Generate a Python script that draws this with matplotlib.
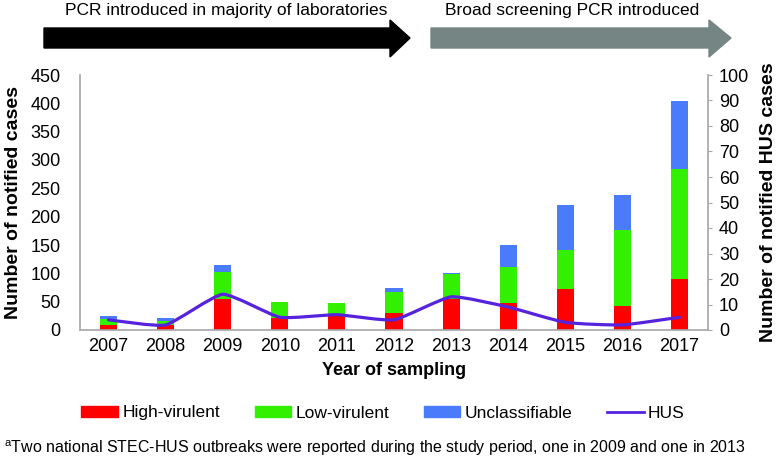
import matplotlib
matplotlib.use("Agg")
import matplotlib.pyplot as plt
import numpy as np
from matplotlib.patches import Polygon, Patch, PathPatch
from matplotlib.lines import Line2D
from matplotlib.path import Path

plt.rcParams['font.family'] = ['Liberation Sans', 'DejaVu Sans']

# Data
years = ['2007', '2008', '2009', '2010', '2011', '2012', '2013', '2014', '2015', '2016', '2017']
high_virulent = [8, 9, 54, 22, 26, 30, 55, 48, 72, 43, 90]
low_virulent = [11, 7, 48, 27, 21, 37, 43, 64, 70, 133, 194]
unclassifiable = [5, 5, 12, 1, 1, 7, 3, 38, 79, 63, 121]
hus = [4, 2, 14, 5, 6, 4, 13, 9, 3, 2, 5]

c_red = '#ff0000'
c_green = '#33f000'
c_blue = '#4a7bfb'
c_hus = '#5522dd'
c_axis = '#a6a6a6'

fig = plt.figure(figsize=(7.8, 4.63), dpi=100)
ax = fig.add_axes([80 / 780, 1 - 330 / 463, 628 / 780, 255 / 463])

x = np.arange(len(years))
hv = np.array(high_virulent)
lv = np.array(low_virulent)
uc = np.array(unclassifiable)
w = 0.3
ax.bar(x, hv, w, color=c_red, zorder=2)
ax.bar(x, lv, w, bottom=hv, color=c_green, zorder=2)
ax.bar(x, uc, w, bottom=hv + lv, color=c_blue, zorder=2)

ax.set_xlim(-0.5, len(years) - 0.5)
ax.set_ylim(0, 450)
ax.set_yticks(np.arange(0, 451, 50))
ax.set_xticks(x)
ax.set_xticklabels(years)
ax.tick_params(axis='x', length=0, labelsize=13, pad=6)
ax.tick_params(axis='y', length=0, labelsize=13, pad=14)
ax.spines['top'].set_visible(False)
ax.spines['right'].set_visible(False)
for s in ['left', 'bottom']:
    ax.spines[s].set_color(c_axis)
    ax.spines[s].set_linewidth(1.2)
ax.set_ylabel('Number of notified cases', fontsize=14, fontweight='bold', labelpad=6)
ax.set_xlabel('Year of sampling', fontsize=13, fontweight='bold', labelpad=5)

ax2 = ax.twinx()
ax2.set_ylim(0, 100)
ax2.set_yticks(np.arange(0, 101, 10))
ax2.tick_params(axis='y', length=3, color=c_axis, labelsize=13, pad=5)
for s in ['top', 'left', 'bottom']:
    ax2.spines[s].set_visible(False)
ax2.spines['right'].set_color(c_axis)
ax2.spines['right'].set_linewidth(1.2)
ax2.set_ylabel('Number of notified HUS cases', fontsize=14, fontweight='bold', labelpad=8)

# lightly smoothed HUS line through the data points
px = x.astype(float)
py = np.array(hus, dtype=float)
verts = [(px[0], py[0])]
codes = [Path.MOVETO]
t = 1 / 12
n = len(px)
for i in range(n - 1):
    p0 = (px[max(i - 1, 0)], py[max(i - 1, 0)])
    p1 = (px[i], py[i])
    p2 = (px[i + 1], py[i + 1])
    p3 = (px[min(i + 2, n - 1)], py[min(i + 2, n - 1)])
    c1 = (p1[0] + (p2[0] - p0[0]) * t, p1[1] + (p2[1] - p0[1]) * t)
    c2 = (p2[0] - (p3[0] - p1[0]) * t, p2[1] - (p3[1] - p1[1]) * t)
    verts += [c1, c2, p2]
    codes += [Path.CURVE4] * 3
ax2.add_patch(PathPatch(Path(verts, codes), facecolor='none', edgecolor=c_hus,
                        lw=2.3, capstyle='round', zorder=3))

# arrows on top
ov = fig.add_axes([0, 0, 1, 1], zorder=-1)
ov.set_xlim(0, 780)
ov.set_ylim(463, 0)
ov.axis('off')
ov.add_patch(Polygon([(44, 28), (390, 28), (390, 20), (410, 38), (390, 57), (390, 48), (44, 48)],
                     closed=True, color='black'))
ov.add_patch(Polygon([(431, 28), (709, 28), (709, 20), (731, 38), (709, 57), (709, 48), (431, 48)],
                     closed=True, color='#748583'))
ov.text(226, 11, 'PCR introduced in majority of laboratories', ha='center', va='center', fontsize=12.5)
ov.text(572, 11, 'Broad screening PCR introduced', ha='center', va='center', fontsize=12.5)

handles = [Patch(color=c_red, label='High-virulent'),
           Patch(color=c_green, label='Low-virulent'),
           Patch(color=c_blue, label='Unclassifiable'),
           Line2D([0], [0], color=c_hus, lw=2, label='HUS')]
fig.legend(handles=handles, loc='center', bbox_to_anchor=(383 / 780, 1 - 413 / 463), ncol=4,
           frameon=False, fontsize=12.5, handlelength=2.1, handleheight=0.55,
           columnspacing=2.0, handletextpad=0.25)

fig.text(4 / 780, 1 - 448 / 463,
         '$^{\\mathregular{a}}$Two national STEC-HUS outbreaks were reported during the study period, one in 2009 and one in 2013',
         ha='left', va='center', fontsize=11.5)

fig.savefig('out.png', dpi=100)
